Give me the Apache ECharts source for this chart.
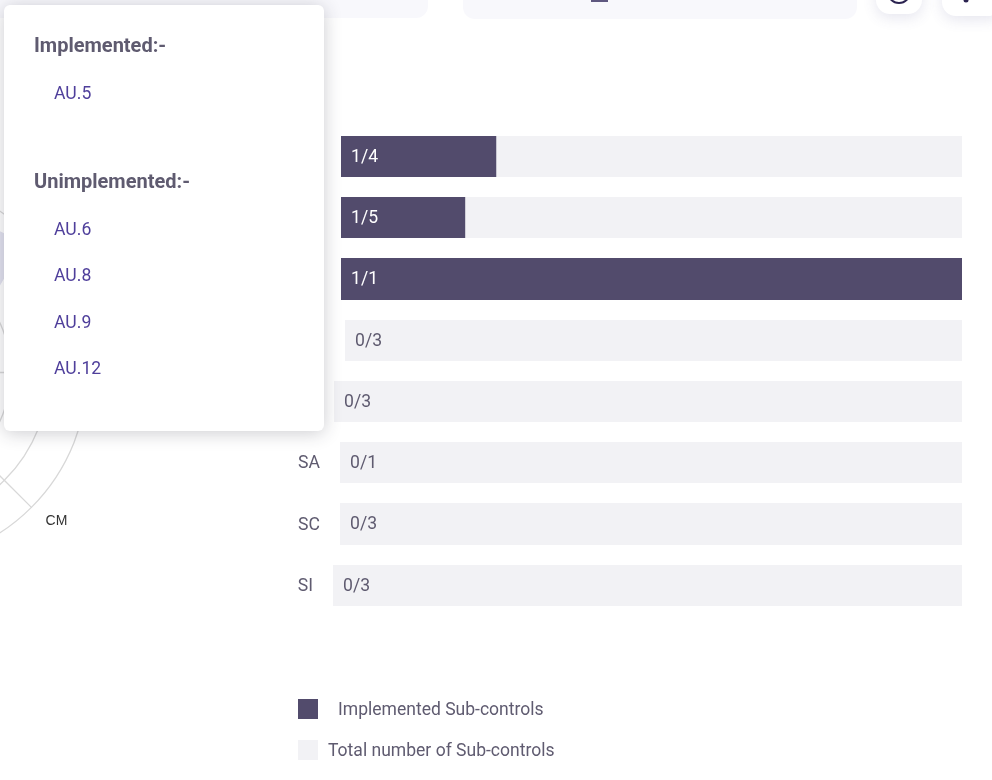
<!DOCTYPE html>
<html>
<head>
<meta charset="utf-8">
<title>Sub-controls</title>
<script src="https://cdn.jsdelivr.net/npm/echarts@6/dist/echarts.min.js"></script>
<style>
  html, body { margin: 0; padding: 0; background: #fff; }
  #chart { width: 992px; height: 780px; }
  .tip { position: relative; width: 320px; height: 426px; font-family: Roboto, sans-serif; }
  .tip h4 { margin: 0 0 8px 30px; height: 34px; line-height: 34px; font-size: 20px; font-weight: 700; color: #5f5b70; }
  .tip ul { margin: 0; padding: 0 0 0 50px; list-style: none; }
  .tip li { height: 46.3px; line-height: 46.3px; font-size: 17.6px; font-weight: 400; color: #4f3f9b; }
  .tip .arrow { position: absolute; left: -5px; top: 207px; }
</style>
</head>
<body>
<div id="chart"></div>
<script>
// families, same order in the radar and in the bars
var families = ['AC', 'AU', 'AT', 'CM', 'IA', 'SA', 'SC', 'SI'];
var implemented = [1, 1, 1, 0, 0, 0, 0, 0];
var totals = [4, 5, 1, 3, 3, 1, 3, 3];
// radar values are only visible as a sliver at the left edge, estimated
var radarValues = [100, 95, 28, 10, 10, 10, 10, 10];
var implementedControls = ['AU.5'];
var unimplementedControls = ['AU.6', 'AU.8', 'AU.9', 'AU.12'];

var IMPL_NAME = 'Implemented Sub-controls';
var TOTAL_NAME = 'Total number of Sub-controls';
var DARK = '#524b6c';
var TRACK = '#f2f2f5';
var TEXT = '#5f5b70';
var FONT = 'Roboto';

// the bars start right after each row's label, so the left edge differs per row
var rowLeft = [341, 341, 341, 345, 334, 340, 340, 333];
var rowTop = [136, 197, 258, 320, 381, 442, 503, 565];
var rowHeight = [41, 41, 42, 41, 41, 41, 42, 41];
var HOVER_ROW = 1;

var myChart = echarts.init(document.getElementById('chart'), null, { renderer: 'canvas' });

// echarts walks the radar counter clockwise, the reference goes clockwise
function clockwise(list) {
  return [list[0]].concat(list.slice(1).reverse());
}

var grids = [], xAxes = [], yAxes = [];
var series = [{
  type: 'radar',
  radarIndex: 0,
  silent: true,
  tooltip: { show: false },
  symbol: 'none',
  lineStyle: { width: 0 },
  areaStyle: { color: '#e3e3f0', opacity: 1 },
  data: [{ value: clockwise(radarValues) }]
}];

var hoverSeriesIndex = 0;
families.forEach(function (name, i) {
  grids.push({ left: rowLeft[i], right: 30, top: rowTop[i], height: rowHeight[i], containLabel: false });
  xAxes.push({ type: 'value', gridIndex: i, min: 0, max: totals[i], show: false });
  yAxes.push({
    type: 'category',
    gridIndex: i,
    data: [name],
    axisLine: { show: false },
    axisTick: { show: false },
    // top aligned with a tiny line height nudges the text down a bit
    axisLabel: { color: TEXT, fontFamily: FONT, fontSize: 17.6, margin: 20, verticalAlign: 'top', lineHeight: 3 }
  });
  series.push({
    name: TOTAL_NAME,
    type: 'bar',
    xAxisIndex: i,
    yAxisIndex: i,
    barWidth: '100%',
    silent: true,
    z: 1,
    itemStyle: { color: TRACK },
    data: [totals[i]]
  });
  if (i === HOVER_ROW) hoverSeriesIndex = series.length;
  series.push({
    name: IMPL_NAME,
    type: 'bar',
    xAxisIndex: i,
    yAxisIndex: i,
    barWidth: '100%',
    barGap: '-100%',
    z: 2,
    emphasis: { disabled: true },
    itemStyle: { color: DARK },
    label: {
      show: true,
      position: 'insideLeft',
      distance: 10,
      offset: [0, 1],
      fontFamily: FONT,
      fontSize: 17.6,
      color: implemented[i] > 0 ? '#fff' : TEXT,
      formatter: implemented[i] + '/' + totals[i]
    },
    data: [implemented[i]]
  });
});

function controlList(items) {
  return '<ul>' + items.map(function (c) { return '<li>' + c + '</li>'; }).join('') + '</ul>';
}

function tipHtml() {
  return '<div class="tip">' +
    '<svg class="arrow" width="12" height="24" viewBox="0 0 12 24"><path d="M5 0 L12 7 L5 14 Z" fill="#fff"/></svg>' +
    '<div style="height:23px"></div>' +
    '<h4>Implemented:-</h4>' + controlList(implementedControls) +
    '<div style="height:47.7px"></div>' +
    '<h4>Unimplemented:-</h4>' + controlList(unimplementedControls) +
    '</div>';
}

function legendText(pad) {
  return {
    rich: {
      s: { height: 24, width: 0 },
      t: { color: TEXT, fontFamily: FONT, fontSize: 17.55, height: 20, verticalAlign: 'bottom', padding: [0, 0, 0, pad] }
    }
  };
}

function legendLabel(name) {
  return '{s| }{t|' + name + '}';
}

myChart.setOption({
  animation: false,
  backgroundColor: '#fff',
  textStyle: { fontFamily: FONT },
  tooltip: {
    show: true,
    trigger: 'item',
    alwaysShowContent: true,
    transitionDuration: 0,
    position: [4, 5],
    padding: 0,
    borderWidth: 0,
    backgroundColor: '#fff',
    extraCssText: 'box-shadow:0 2px 18px rgba(40,40,60,.24);border-radius:6px;',
    formatter: tipHtml
  },
  legend: [
    {
      left: 298, top: 699, itemWidth: 20, itemHeight: 20, itemGap: 0, padding: 0,
      data: [{ name: IMPL_NAME, icon: 'rect' }],
      selectedMode: false,
      formatter: legendLabel,
      textStyle: legendText(15)
    },
    {
      left: 298, top: 740, itemWidth: 20, itemHeight: 20, itemGap: 0, padding: 0,
      data: [{ name: TOTAL_NAME, icon: 'rect' }],
      selectedMode: false,
      formatter: legendLabel,
      textStyle: legendText(5)
    }
  ],
  radar: {
    center: [-104, 372],
    radius: 191.5,
    shape: 'circle',
    splitNumber: 5,
    startAngle: 90,
    nameGap: 20,
    axisName: { color: '#333', fontFamily: 'Liberation Sans', fontSize: 14 },
    axisLine: { lineStyle: { color: '#d8d8d8', width: 1.3 } },
    axisTick: { show: false },
    splitLine: { lineStyle: { color: '#d8d8d8', width: 1.3 } },
    splitArea: { show: false },
    indicator: clockwise(families).map(function (f) { return { name: f, max: 100 }; })
  },
  grid: grids,
  xAxis: xAxes,
  yAxis: yAxes,
  series: series,
  // bits of the surrounding page header, cut off by the top edge
  graphic: [
    { type: 'rect', shape: { x: -20, y: -30, width: 448, height: 48, r: 12 }, style: { fill: '#f8f8fc' }, silent: true },
    { type: 'rect', shape: { x: 463, y: -30, width: 394, height: 49, r: 12 }, style: { fill: '#f8f8fc' }, silent: true },
    { type: 'rect', shape: { x: 591, y: 0, width: 17, height: 2 }, style: { fill: '#5f5880' }, silent: true },
    { type: 'rect', shape: { x: 876, y: -30, width: 46, height: 44, r: 14 }, style: { fill: '#fff', shadowBlur: 14, shadowColor: 'rgba(80,80,140,.14)', shadowOffsetY: 4 }, silent: true },
    { type: 'rect', shape: { x: 942, y: -30, width: 60, height: 46, r: 14 }, style: { fill: '#fff', shadowBlur: 14, shadowColor: 'rgba(80,80,140,.14)', shadowOffsetY: 4 }, silent: true },
    { type: 'circle', shape: { cx: 899, cy: -8, r: 11 }, style: { fill: 'none', stroke: '#2b2350', lineWidth: 2 }, silent: true },
    { type: 'circle', shape: { cx: 966, cy: 0, r: 2.5 }, style: { fill: '#2b2350' }, silent: true }
  ]
});

myChart.dispatchAction({ type: 'showTip', seriesIndex: hoverSeriesIndex, dataIndex: 0 });
</script>
</body>
</html>
